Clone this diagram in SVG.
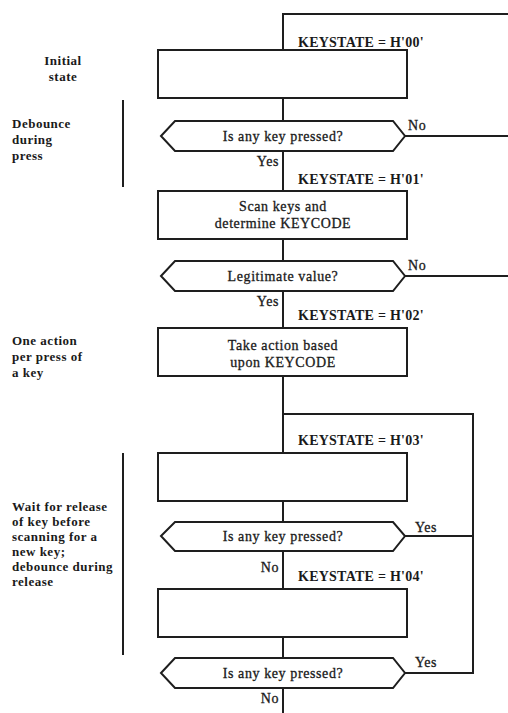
<svg xmlns="http://www.w3.org/2000/svg" width="508" height="713" viewBox="0 0 508 713">
  <style>
    .ln { fill: none; stroke: #1e1e1e; stroke-width: 2; }
    .box { fill: #fff; stroke: #1e1e1e; stroke-width: 2; }
    .t { font-family: "Liberation Serif", "Times New Roman", serif; fill: #1a1a1a; font-size: 14px; letter-spacing: 0.6px; stroke: #1a1a1a; stroke-width: 0.3; }
    .k { font-family: "Liberation Serif", "Times New Roman", serif; fill: #1a1a1a; font-size: 14px; letter-spacing: 0.25px; font-weight: bold; }
    .c { text-anchor: middle; }
    .e { text-anchor: end; }
    .side { font-family: "Liberation Serif", "Times New Roman", serif; fill: #1a1a1a; font-size: 13px; letter-spacing: 0.5px; font-weight: bold; }
  </style>
  <rect width="508" height="713" fill="#fff"/>

  <!-- connectors -->
  <g id="connectors">
    <polyline class="ln" points="508,14 283,14 283,50"/>
    <line class="ln" x1="283" y1="98" x2="283" y2="121"/>
    <line class="ln" x1="405" y1="136" x2="508" y2="136"/>
    <line class="ln" x1="283" y1="151" x2="283" y2="191"/>
    <line class="ln" x1="283" y1="239" x2="283" y2="260"/>
    <line class="ln" x1="405" y1="276" x2="508" y2="276"/>
    <line class="ln" x1="283" y1="291" x2="283" y2="328"/>
    <line class="ln" x1="283" y1="376" x2="283" y2="453"/>
    <polyline class="ln" points="283,414 473,414 473,673 405,673"/>
    <line class="ln" x1="283" y1="501" x2="283" y2="522"/>
    <line class="ln" x1="405" y1="536" x2="473" y2="536"/>
    <line class="ln" x1="283" y1="551" x2="283" y2="588"/>
    <line class="ln" x1="283" y1="637" x2="283" y2="658"/>
    <line class="ln" x1="283" y1="688" x2="283" y2="713"/>
  </g>

  <!-- side brackets -->
  <g id="brackets">
    <line class="ln" x1="123" y1="100" x2="123" y2="187"/>
    <line class="ln" x1="123" y1="453" x2="123" y2="655"/>
  </g>

  <!-- side notes -->
  <g id="note-initial">
    <text class="side c" x="63" y="65">Initial</text>
    <text class="side c" x="63" y="81">state</text>
  </g>
  <g id="note-debounce">
    <text class="side" x="12" y="128">Debounce</text>
    <text class="side" x="12" y="144">during</text>
    <text class="side" x="12" y="160">press</text>
  </g>
  <g id="note-action">
    <text class="side" x="12" y="345">One action</text>
    <text class="side" x="12" y="361">per press of</text>
    <text class="side" x="12" y="377">a key</text>
  </g>
  <g id="note-release">
    <text class="side" x="12" y="511">Wait for release</text>
    <text class="side" x="12" y="526">of key before</text>
    <text class="side" x="12" y="541">scanning for a</text>
    <text class="side" x="12" y="556">new key;</text>
    <text class="side" x="12" y="571">debounce during</text>
    <text class="side" x="12" y="586">release</text>
  </g>

  <!-- state 00 -->
  <g id="state0">
    <text class="k" x="298" y="47">KEYSTATE = H'00'</text>
    <rect class="box" x="158" y="50" width="249" height="48"/>
  </g>
  <g id="decision1">
    <polygon class="box" points="161,136 175,121 393,121 405,136 393,151 175,151"/>
    <text class="t c" x="283" y="141">Is any key pressed?</text>
    <text class="t" x="408" y="130">No</text>
    <text class="t e" x="279" y="166">Yes</text>
  </g>

  <!-- state 01 -->
  <g id="state1">
    <text class="k" x="298" y="184">KEYSTATE = H'01'</text>
    <rect class="box" x="158" y="191" width="249" height="48"/>
    <text class="t c" x="283" y="211">Scan keys and</text>
    <text class="t c" x="283" y="228">determine KEYCODE</text>
  </g>
  <g id="decision2">
    <polygon class="box" points="161,276 175,261 393,261 405,276 393,291 175,291"/>
    <text class="t c" x="283" y="281">Legitimate value?</text>
    <text class="t" x="408" y="270">No</text>
    <text class="t e" x="279" y="306">Yes</text>
  </g>

  <!-- state 02 -->
  <g id="state2">
    <text class="k" x="298" y="320">KEYSTATE = H'02'</text>
    <rect class="box" x="158" y="328" width="249" height="48"/>
    <text class="t c" x="283" y="350">Take action based</text>
    <text class="t c" x="283" y="367">upon KEYCODE</text>
  </g>

  <!-- state 03 -->
  <g id="state3">
    <text class="k" x="298" y="445">KEYSTATE = H'03'</text>
    <rect class="box" x="158" y="453" width="249" height="48"/>
  </g>
  <g id="decision3">
    <polygon class="box" points="161,536 175,522 393,522 405,536 393,551 175,551"/>
    <text class="t c" x="283" y="541">Is any key pressed?</text>
    <text class="t" x="415" y="532">Yes</text>
    <text class="t e" x="279" y="572">No</text>
  </g>

  <!-- state 04 -->
  <g id="state4">
    <text class="k" x="298" y="581">KEYSTATE = H'04'</text>
    <rect class="box" x="158" y="589" width="249" height="48"/>
  </g>
  <g id="decision4">
    <polygon class="box" points="161,673 175,658 393,658 405,673 393,688 175,688"/>
    <text class="t c" x="283" y="678">Is any key pressed?</text>
    <text class="t" x="415" y="667">Yes</text>
    <text class="t e" x="279" y="703">No</text>
  </g>
</svg>
